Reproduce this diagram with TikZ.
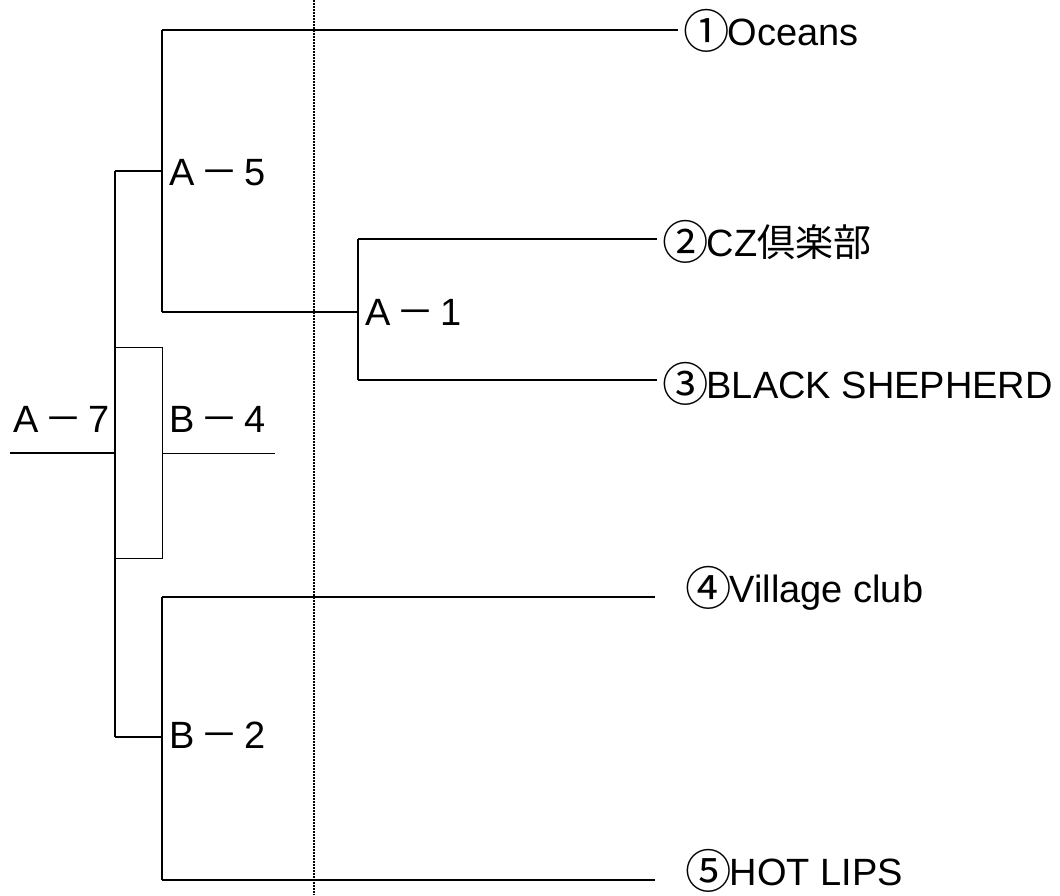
\documentclass[tikz,border=0pt]{standalone}
\usepackage{fontspec}
\setmainfont{Liberation Sans}
\newfontfamily\cjk{Noto Sans CJK JP}
\newcommand{\circnum}[1]{{\cjk\raisebox{-3pt}{\scalebox{1.22}{#1}}}\kern-2pt}
\newcommand{\match}[2]{#1\hspace{6pt}{\cjk －}\hspace{6pt}#2}
\tikzset{
  line/.style={line width=2.8pt},
  thin line/.style={line width=0.9pt},
  seed/.style={anchor=base west, inner sep=0pt, font=\fontsize{38}{38}\selectfont},
  team/.style={anchor=base west, inner sep=0pt, font=\fontsize{38}{38}\selectfont},
}
\begin{document}
\begin{tikzpicture}[x=1pt,y=-1pt]
    \useasboundingbox (0,0) rectangle (1060,895);

    % junctions
    \coordinate (root) at (10,453);
    \coordinate (a7) at (115,453);
    \coordinate (a7top) at (115,171);
    \coordinate (a7bot) at (115,737);
    \coordinate (a5top) at (162,30);
    \coordinate (a5mid) at (162,171);
    \coordinate (a5bot) at (162,312);
    \coordinate (a1top) at (358,239);
    \coordinate (a1mid) at (358,312);
    \coordinate (a1bot) at (358,380);
    \coordinate (b2top) at (162,597);
    \coordinate (b2mid) at (162,737);
    \coordinate (b2bot) at (162,880);

    % teams
    \node[team] (t1) at (683,45) {\circnum{①}Oceans};
    \node[team] (t2) at (662,256) {\circnum{②}CZ{\cjk 倶楽部}};
    \node[team] (t3) at (662,398) {\circnum{③}BLACK SHEPHERD};
    \node[team] (t4) at (685,602) {\circnum{④}Village club};
    \node[team] (t5) at (685,885) {\circnum{⑤}HOT LIPS};

    % match labels
    \node[seed] (A7) at (13,432) {\match{A}{7}};
    \node[seed] (B4) at (169,432) {\match{B}{4}};
    \node[seed] (A5) at (169,185) {\match{A}{5}};
    \node[seed] (A1) at (365,325) {\match{A}{1}};
    \node[seed] (B2) at (169,748) {\match{B}{2}};

    % dotted guide
    \draw[line width=1.2pt, dash pattern=on 2pt off 1pt] (314,0) -- (314,895);

    % final
    \draw[line] (root) -- (a7);
    \draw[line] (a7top) -- (a7bot);
    \draw[thin line] (115,347) rectangle (162,558);
    \draw[thin line] (162,453) -- (275,453);

    % A-5
    \draw[line] (a7top) -- (a5mid);
    \draw[line] (a5top) -- (a5bot);
    \draw[line] (a5top) -- ([xshift=-5pt]a5top -| t1.west);
    \draw[line] (a5bot) -- (a1mid);

    % A-1
    \draw[line] (a1top) -- (a1bot);
    \draw[line] (a1top) -- ([xshift=-5pt]a1top -| t2.west);
    \draw[line] (a1bot) -- ([xshift=-5pt]a1bot -| t3.west);

    % B-2
    \draw[line] (a7bot) -- (b2mid);
    \draw[line] (b2top) -- (b2bot);
    \draw[line] (b2top) -- ([xshift=-30pt]b2top -| t4.west);
    \draw[line] (b2bot) -- ([xshift=-30pt]b2bot -| t5.west);
\end{tikzpicture}
\end{document}
